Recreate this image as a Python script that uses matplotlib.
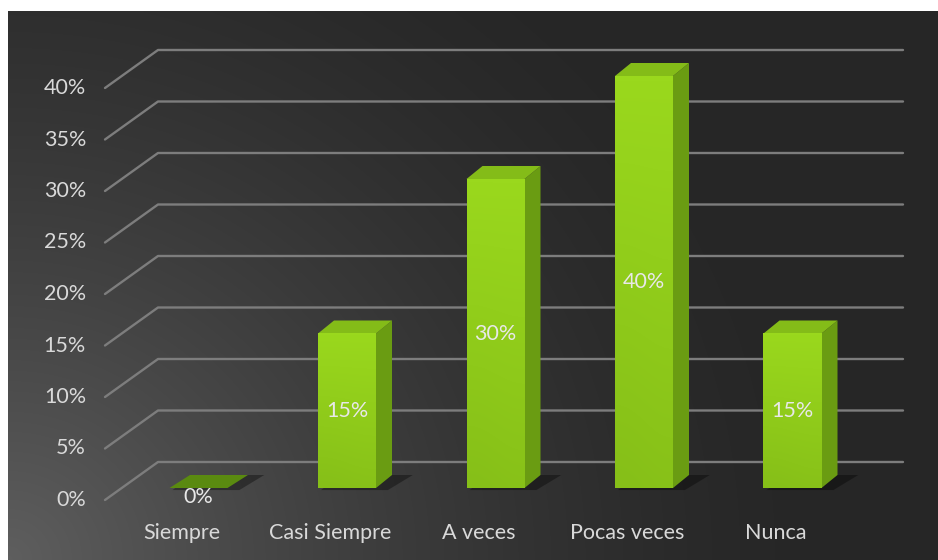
import numpy as np
import matplotlib
matplotlib.use("Agg")
import matplotlib.pyplot as plt
from matplotlib.patches import Polygon

# ---- data ----
categories = ["Siempre", "Casi Siempre", "A veces", "Pocas veces", "Nunca"]
values = [0, 15, 30, 40, 15]
value_labels = ["0%", "15%", "30%", "40%", "15%"]
ticks = [0, 5, 10, 15, 20, 25, 30, 35, 40]
tick_labels = ["0%", "5%", "10%", "15%", "20%", "25%", "30%", "35%", "40%"]

# ---- figure ----
W, H, DPI = 938, 560, 100
fig = plt.figure(figsize=(W / DPI, H / DPI), dpi=DPI, facecolor="white")
ax = fig.add_axes([8 / W, 0, (W - 8) / W, (H - 11) / H])
ax.set_axis_off()

# data-unit scale (px per unit) used only for 3D offsets
SX, SY = 148.5, 10.3
x0_px, y0_px = 181.5 - 8, 500 - 11          # relative to axes origin
xlim = (-x0_px / SX, (W - 8 - x0_px) / SX)
ylim = (-(H - 11 - y0_px) / SY, y0_px / SY)
ax.set_xlim(*xlim)
ax.set_ylim(*ylim)

# background gradient (lighter toward bottom-left)
ny, nx = 200, 340
yy, xx = np.mgrid[0:1:ny * 1j, 0:1:nx * 1j]
d = np.sqrt((xx * 1.6) ** 2 + (yy) ** 2)
light = 0.15 + 0.22 * np.clip(1 - d / 1.4, 0, 1) ** 1.5
bg = np.dstack([light, light, light])
ax.imshow(bg, extent=[xlim[0], xlim[1], ylim[0], ylim[1]], origin="lower",
          aspect="auto", zorder=0, interpolation="bicubic")

# wall depth vector and bar geometry (data units)
WDX, WDY = 53 / SX, 38 / SY
wall_front_x = (105 - 181.5) / SX
wall_right_x = (903 - 181.5) / SX
BFX, BFY = 17 / SX, 12 / SY        # bar front offset from floor front
BDX, BDY = 16 / SX, 13 / SY        # bar depth
BW = 58 / SX

grid_col = "#7d7d7d"
for v in ticks:
    ax.plot([wall_front_x, wall_front_x + WDX, wall_right_x],
            [v, v + WDY, v + WDY], color=grid_col, lw=1.7,
            solid_capstyle="round", zorder=1)

txt_col = "#d9d9d9"
font = "Lato"
FS = 15.5
for v, lab in zip(ticks, tick_labels):
    ax.text((86 - 181.5) / SX, v, lab, ha="right", va="center",
            color=txt_col, fontsize=FS, family=font, zorder=5)

for i, c in enumerate(categories):
    ax.text(i, -33 / SY, c, ha="center", va="center", color=txt_col,
            fontsize=FS, family=font, zorder=5)

front_cmap = matplotlib.colors.LinearSegmentedColormap.from_list(
    "fr", ["#86bf18", "#9ad81d"])
for i, (v, lab) in enumerate(zip(values, value_labels)):
    xl = i + BFX - BW / 2
    xr = xl + BW
    yb = BFY
    yt = BFY + v
    # shadow on floor
    sh = Polygon([(xl + 0.02, yb - 0.2), (xr + 0.08, yb - 0.2),
                  (xr + BDX + 0.14, yb + BDY), (xl + BDX + 0.05, yb + BDY)],
                 closed=True, facecolor="black", alpha=0.35,
                 edgecolor="none", zorder=2)
    ax.add_patch(sh)
    if v > 0:
        side = Polygon([(xr, yb), (xr + BDX, yb + BDY), (xr + BDX, yt + BDY),
                        (xr, yt)], closed=True, facecolor="#6a9c12",
                       edgecolor="none", zorder=3)
        ax.add_patch(side)
        top = Polygon([(xl, yt), (xr, yt), (xr + BDX, yt + BDY),
                       (xl + BDX, yt + BDY)], closed=True,
                      facecolor="#84bc18", edgecolor="none", zorder=3)
        ax.add_patch(top)
        grad = np.linspace(0, 1, 50).reshape(-1, 1)
        grad = np.hstack([grad, grad * 0.9 + 0.1])
        ax.imshow(grad, cmap=front_cmap, extent=[xl, xr, yb, yt],
                  origin="lower", aspect="auto", zorder=3.5,
                  interpolation="bicubic")
        ax.text(i + BFX, yb + v / 2, lab, ha="center", va="center",
                color="#e8e8e8", fontsize=FS, family=font, zorder=6)
    else:
        flat = Polygon([(xl, yb), (xr, yb), (xr + BDX + 0.03, yb + BDY),
                        (xl + BDX + 0.03, yb + BDY)], closed=True,
                       facecolor="#5a8a10", edgecolor="none", zorder=3)
        ax.add_patch(flat)
        ax.text(i + BFX, yb - 9 / SY, lab, ha="center", va="center",
                color="#e8e8e8", fontsize=FS, family=font, zorder=6)

ax.set_xlim(*xlim)
ax.set_ylim(*ylim)
fig.savefig("out.png", dpi=DPI, facecolor="white")
